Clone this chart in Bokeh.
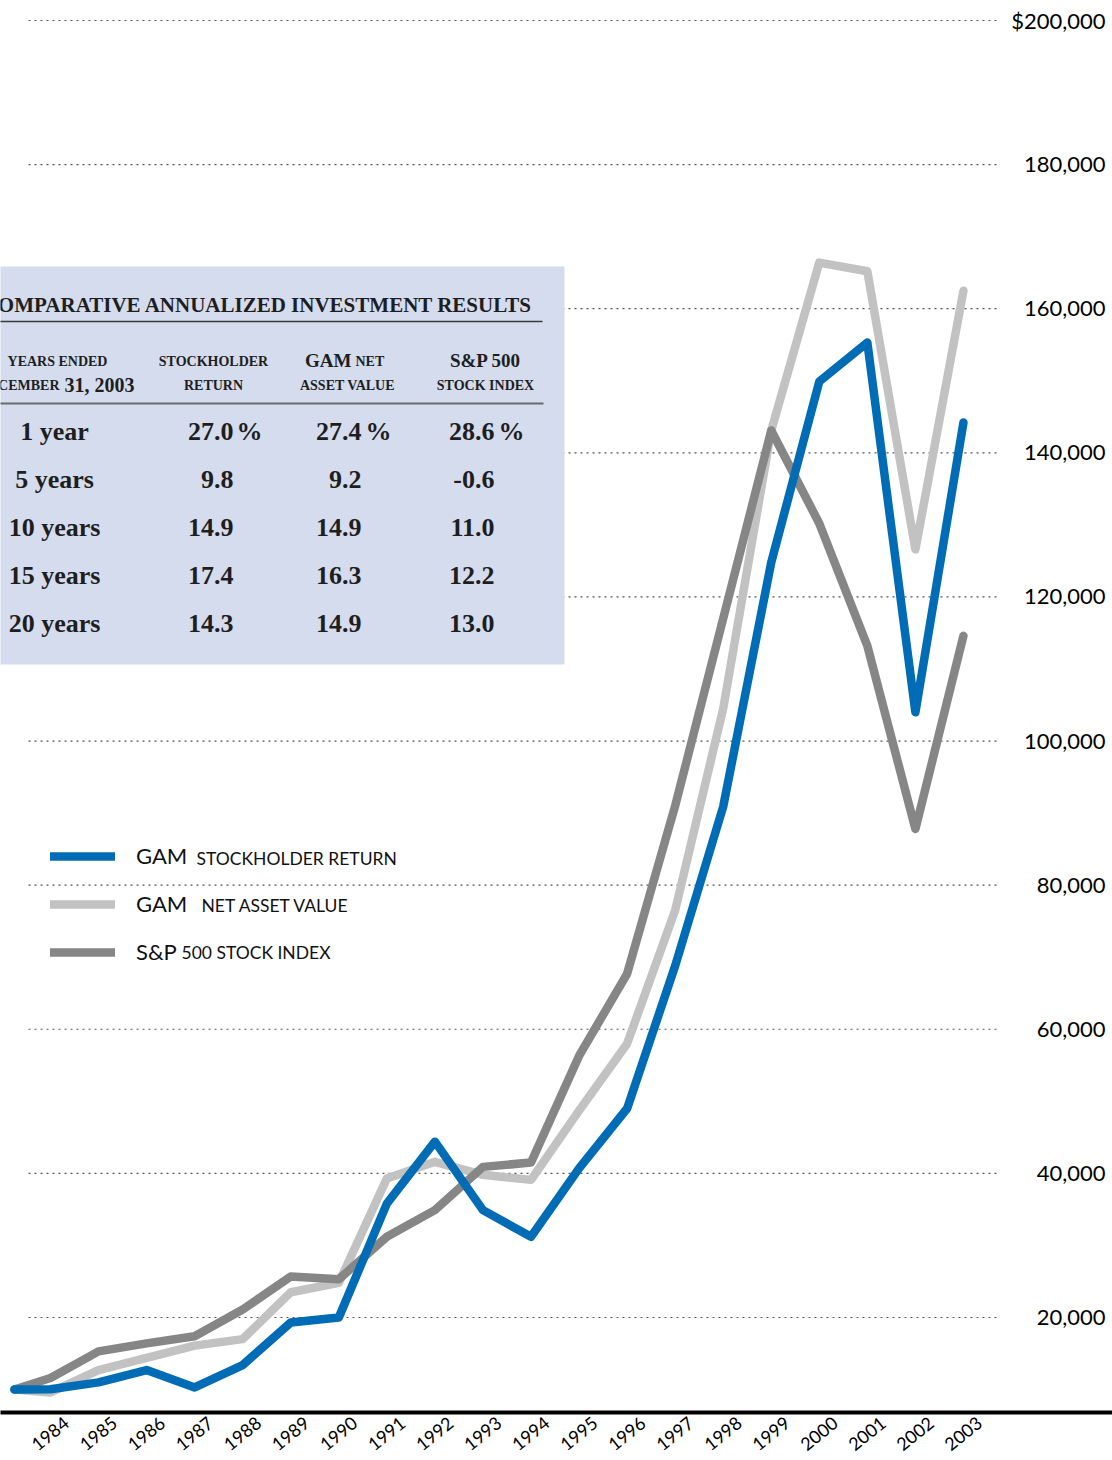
from bokeh.plotting import figure
from bokeh.models import (Range1d, LinearAxis, FixedTicker, BoxAnnotation, Label,
                          Legend, LegendItem)
from bokeh.core.properties import value
from bokeh.embed import file_html
from bokeh.resources import INLINE

# ---------------- data ----------------
years = [1983.25, 1984, 1985, 1986, 1987, 1988, 1989, 1990, 1991, 1992, 1993,
         1994, 1995, 1996, 1997, 1998, 1999, 2000, 2001, 2002, 2003]
year_ticks = [1984, 1985, 1986, 1987, 1988, 1989, 1990, 1991, 1992, 1993,
              1994, 1995, 1996, 1997, 1998, 1999, 2000, 2001, 2002, 2003]
year_labels = [str(y) for y in year_ticks]

stockholder = [10000, 10050, 11000, 12700, 10300, 13400, 19300, 20000, 35800, 44400, 34900,
               31200, 40700, 49000, 68800, 90900, 124800, 149900, 155300, 104000, 144200]
nav = [10000, 9600, 12700, 14400, 16100, 17000, 23500, 24800, 39300, 41600, 39800,
       39100, 48700, 58000, 76500, 104500, 143100, 166400, 165200, 126600, 162500]
sp500 = [10000, 11600, 15300, 16400, 17400, 21100, 25700, 25300, 31200, 34900, 40900,
         41500, 56300, 67700, 91000, 117000, 143100, 130200, 113200, 87800, 114600]

y_ticks = [20000, 40000, 60000, 80000, 100000, 120000, 140000, 160000, 180000, 200000]
y_labels = ["20,000", "40,000", "60,000", "80,000", "100,000", "120,000",
            "140,000", "160,000", "180,000", "$200,000"]

periods = ["1 year", "5 years", "10 years", "15 years", "20 years"]
stock_ret = ["27.0", "9.8", "14.9", "17.4", "14.3"]
nav_ret = ["27.4", "9.2", "14.9", "16.3", "14.9"]
sp_ret = ["28.6", "-0.6", "11.0", "12.2", "13.0"]

legend_big = ["GAM", "GAM", "S&P"]
legend_small = ["STOCKHOLDER RETURN", "NET ASSET VALUE", "500 STOCK INDEX"]

# ---------------- layout helpers (picture pixel -> data) ----------------
W, H = 1112, 1460
BOTTOM = 48                      # height of the x-axis band

def X(px):
    return 1984 + (px - 50) / 48.05

def Y(py):
    return (1461.1 - py) / 0.0072056

x_start, x_end = X(0), X(W)
y_start, y_end = Y(H - BOTTOM), Y(0)

BLUE = "#006cb6"
LIGHT = "#c2c2c2"
DARK = "#868686"

p = figure(width=W, height=H, x_range=Range1d(x_start, x_end),
           y_range=Range1d(y_start, y_end), output_backend="svg",
           toolbar_location=None, x_axis_location=None, y_axis_location=None,
           min_border_left=0, min_border_right=0, min_border_top=0,
           min_border_bottom=BOTTOM)
p.outline_line_color = None
p.background_fill_color = "white"
p.border_fill_color = "white"
for g in p.grid:
    g.visible = False

# x axis (labels shifted so that rotated text is centred on its year)
shift = 16 / 48.05
p.extra_x_ranges = {"lab": Range1d(x_start - shift, x_end - shift)}
xax = LinearAxis(x_range_name="lab", ticker=FixedTicker(ticks=year_ticks),
                 major_label_overrides={t: l for t, l in zip(year_ticks, year_labels)})
xax.axis_line_width = 4
xax.axis_line_color = "black"
xax.major_tick_line_color = None
xax.minor_tick_line_color = None
xax.major_tick_out = 0
xax.major_tick_in = 0
xax.major_label_orientation = 0.68
xax.major_label_standoff = 8
xax.major_label_text_font = "Lato"
xax.major_label_text_font_size = "18px"
xax.major_label_text_color = "black"
p.add_layout(xax, "below")

# dotted grid lines
p.segment(x0=[X(28)] * len(y_ticks), x1=[X(997)] * len(y_ticks), y0=y_ticks, y1=y_ticks,
          line_color="#555555", line_width=1.2, line_dash="2 4")

# y labels on the right
p.text(x=[X(1105)] * len(y_ticks), y=y_ticks, text=y_labels, text_align="right",
       text_baseline="middle", text_font=value("Lato"), text_font_size="22px",
       text_color="black")

# series
lr_nav = p.line(years, nav, line_color=LIGHT, line_width=8.5, line_cap="round", line_join="round")
lr_sp = p.line(years, sp500, line_color=DARK, line_width=8.5, line_cap="round", line_join="round")
lr_st = p.line(years, stockholder, line_color=BLUE, line_width=8.5, line_cap="round", line_join="round")

# legend
legend = Legend(items=[LegendItem(label=legend_big[0], renderers=[lr_st]),
                       LegendItem(label=legend_big[1], renderers=[lr_nav]),
                       LegendItem(label=legend_big[2], renderers=[lr_sp])],
                location=(50, (H - BOTTOM) - 965), orientation="vertical",
                background_fill_alpha=0, border_line_color=None, padding=0, margin=0,
                spacing=21, glyph_width=65, glyph_height=26, label_height=26,
                label_standoff=21, label_text_font="Lato", label_text_font_size="22px",
                label_text_color="#111111")
p.add_layout(legend)
for i, (px, txt) in enumerate(zip([196, 201, 181], legend_small)):
    p.add_layout(Label(x=X(px), y=Y(858 + 47 * i), text=txt, text_font="Lato",
                       text_font_size="17.5px", text_color="#111111",
                       text_align="left", text_baseline="alphabetic"))

# ---------------- table ----------------
p.add_layout(BoxAnnotation(left=x_start - 1, right=X(564), top=Y(266), bottom=Y(664),
                           fill_color="#d4dcee", fill_alpha=1, line_color=None))
p.add_layout(BoxAnnotation(left=x_start - 1, right=X(542), top=Y(320.3), bottom=Y(321.8),
                           fill_color="#3a3a3a", fill_alpha=1, line_color=None))
p.add_layout(BoxAnnotation(left=x_start - 1, right=X(543), top=Y(402), bottom=Y(404),
                           fill_color="#6a6a6a", fill_alpha=1, line_color=None))

SERIF = "Liberation Serif"
TXT = "#1e1e1e"

def lab(px, py, text, size, align="center", baseline="alphabetic", bold=True):
    p.add_layout(Label(x=X(px), y=Y(py), text=text, text_font=SERIF,
                       text_font_size=f"{size}px", text_color=TXT,
                       text_font_style="bold" if bold else "normal",
                       text_align=align, text_baseline=baseline))

lab(532, 304, "COMPARATIVE ANNUALIZED INVESTMENT RESULTS", 21, align="right")

# header
lab(57, 361, "YEARS ENDED", 14)
lab(59, 385, "DECEMBER", 14, align="right")
lab(64, 384, "31, 2003", 20, align="left")
lab(213, 361, "STOCKHOLDER", 14)
lab(213, 385, "RETURN", 14)
lab(351, 360, "GAM", 19, align="right")
lab(355, 361, "NET", 14, align="left")
lab(347, 385, "ASSET VALUE", 14)
lab(485, 360, "S&P 500", 19)
lab(485, 385, "STOCK INDEX", 14)

# rows
for i in range(len(periods)):
    base = 431 + 48 * i
    lab(54, base, periods[i], 26)
    lab(233, base, stock_ret[i], 26, align="right")
    lab(361, base, nav_ret[i], 26, align="right")
    lab(494, base, sp_ret[i], 26, align="right")
    if i == 0:
        lab(236, base, "%", 26, align="left")
        lab(365, base, "%", 26, align="left")
        lab(498, base, "%", 26, align="left")

open("out.html", "w").write(file_html(p, INLINE))
